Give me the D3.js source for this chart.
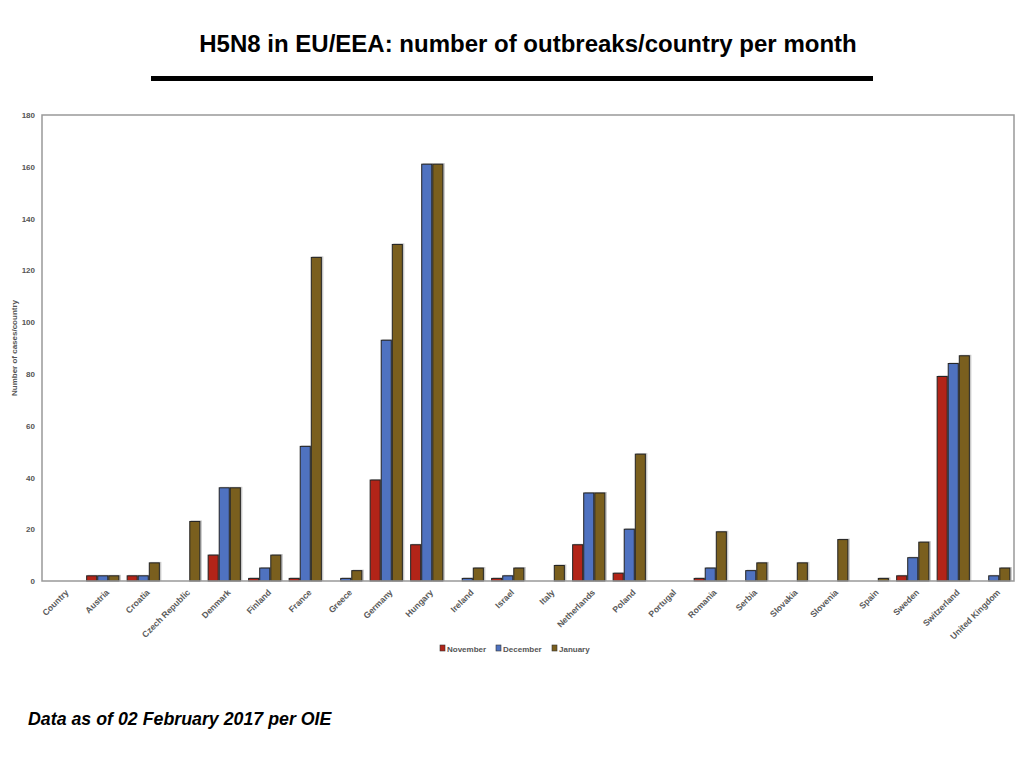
<!DOCTYPE html>
<html>
<head>
<meta charset="utf-8">
<script src="https://cdn.jsdelivr.net/npm/d3@7"></script>
<style>
  body { margin: 0; background: #fff; }
  text { font-family: "Liberation Sans", Arial, sans-serif; }
</style>
</head>
<body>
<svg width="1024" height="768"></svg>
<script>
// data
const countries = ["Country", "Austria", "Croatia", "Czech Republic", "Denmark", "Finland", "France",
  "Greece", "Germany", "Hungary", "Ireland", "Israel", "Italy", "Netherlands", "Poland", "Portugal",
  "Romania", "Serbia", "Slovakia", "Slovenia", "Spain", "Sweden", "Switzerland", "United Kingdom"];
const months = ["November", "December", "January"];
const november = [0, 2, 2, 0, 10, 1, 1, 0, 39, 14, 0, 1, 0, 14, 3, 0, 1, 0, 0, 0, 0, 2, 79, 0];
const december = [0, 2, 2, 0, 36, 5, 52, 1, 93, 161, 1, 2, 0, 34, 20, 0, 5, 4, 0, 0, 0, 9, 84, 2];
const january  = [0, 2, 7, 23, 36, 10, 125, 4, 130, 161, 5, 5, 6, 34, 49, 0, 19, 7, 7, 16, 1, 15, 87, 5];
const yTicks = [0, 20, 40, 60, 80, 100, 120, 140, 160, 180];

const colors = ["#b22418", "#4f72c0", "#7a5f1e"];
const series = [november, december, january];

let svg = d3.select("svg");

// 标题
svg.append("text")
  .attr("x", 528).attr("y", 52)
  .attr("text-anchor", "middle")
  .attr("font-size", 24).attr("font-weight", "bold")
  .text("H5N8 in EU/EEA: number of outbreaks/country per month");

svg.append("rect")
  .attr("x", 151).attr("y", 76).attr("width", 722).attr("height", 5)
  .attr("fill", "#000");

const plotL = 42, plotR = 1014, plotT = 115, plotB = 581;

let x = d3.scaleBand().domain(countries).range([plotL, plotR]).paddingInner(0.18).paddingOuter(0.09);
let xs = d3.scaleBand().domain(months).range([0, x.bandwidth()]);
let y = d3.scaleLinear().domain([0, 180]).range([plotB, plotT]);

let g = svg.append("g");

// bars, grey shadow then dark outlined bar
countries.forEach((c, i) => {
  series.forEach((s, k) => {
    const v = s[i];
    if (!v) return;
    const bx = x(c) + xs(months[k]);
    g.append("rect")
      .attr("x", bx + 1.5).attr("y", y(v) - 1)
      .attr("width", xs.bandwidth()).attr("height", plotB - y(v) + 1)
      .attr("fill", "#c8c8c8");
    g.append("rect")
      .attr("x", bx + 0.5).attr("y", y(v))
      .attr("width", xs.bandwidth() - 1).attr("height", plotB - y(v))
      .attr("fill", colors[k])
      .attr("stroke", "#222").attr("stroke-width", 1);
  });
});

// frame
svg.append("rect")
  .attr("x", plotL).attr("y", plotT).attr("width", plotR - plotL).attr("height", plotB - plotT)
  .attr("fill", "none").attr("stroke", "#999").attr("stroke-width", 1.5);

// y axis
let yAxis = svg.append("g")
  .attr("transform", "translate(" + plotL + ",0)")
  .call(d3.axisLeft(y).tickValues(yTicks).tickSize(0).tickPadding(7));
yAxis.select(".domain").remove();
yAxis.selectAll("text")
  .attr("font-size", 8).attr("font-weight", "bold").attr("fill", "#555")
  .style("font-family", "Liberation Sans, Arial, sans-serif");

svg.append("text")
  .attr("transform", "translate(17,348) rotate(-90)")
  .attr("text-anchor", "middle")
  .attr("font-size", 8).attr("font-weight", "bold").attr("fill", "#555")
  .text("Number of cases/country");

// x axis
let xAxis = svg.append("g")
  .attr("transform", "translate(0," + plotB + ")")
  .call(d3.axisBottom(x).tickSize(0).tickPadding(0));
xAxis.select(".domain").remove();
xAxis.selectAll("text")
  .attr("font-size", 8.6).attr("font-weight", "bold").attr("fill", "#5a5a5a")
  .style("font-family", "Liberation Sans, Arial, sans-serif")
  .attr("text-anchor", "end")
  .attr("dy", 0)
  .attr("transform", "translate(7,12) rotate(-45)");

// legend
let legend = svg.append("g").attr("transform", "translate(440,649)");
let lx = 0;
const legW = [56, 56, 50];
months.forEach((m, k) => {
  legend.append("rect")
    .attr("x", lx).attr("y", -4).attr("width", 5).attr("height", 6)
    .attr("fill", colors[k]).attr("stroke", "#333").attr("stroke-width", 0.6);
  legend.append("text")
    .attr("x", lx + 7).attr("y", 3)
    .attr("font-size", 8).attr("font-weight", "bold").attr("fill", "#555")
    .text(m);
  lx += legW[k];
});

// footer
svg.append("text")
  .attr("x", 28).attr("y", 725)
  .attr("font-size", 17.8).attr("font-weight", "bold").attr("font-style", "italic")
  .text("Data as of 02 February 2017 per OIE");
</script>
</body>
</html>
